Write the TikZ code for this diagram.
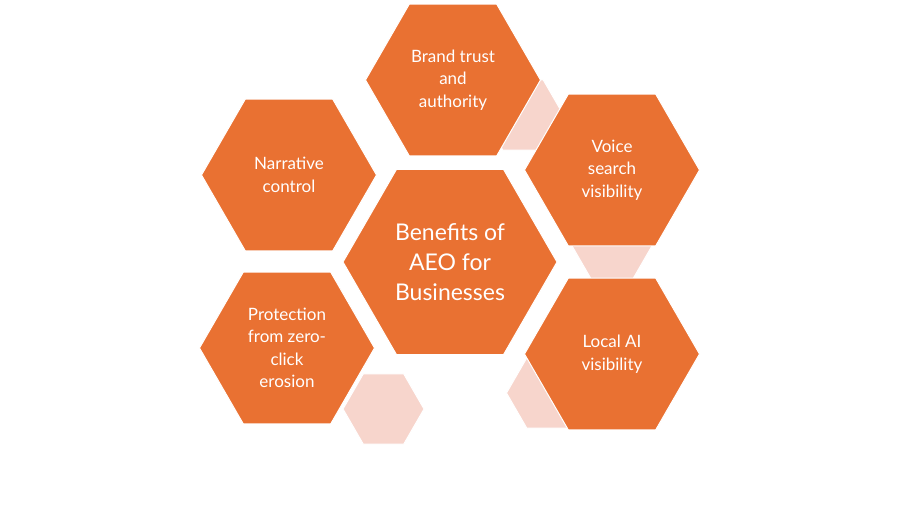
\documentclass[tikz,border=0pt]{standalone}
\usepackage{fontspec}
\setmainfont{Lato}
\usetikzlibrary{shapes.geometric}
\definecolor{hexorange}{HTML}{E97132}
\definecolor{hexpink}{HTML}{F7D5CC}
\tikzset{
  hex/.style={regular polygon,regular polygon sides=6,inner sep=0pt,
    fill=hexorange,draw=white,line width=1pt,text=white,align=center,
    minimum size=175pt,font=\fontsize{17}{22.5}\selectfont},
  bighex/.style={hex,minimum size=214pt,font=\fontsize{23}{30}\selectfont},
  smallhex/.style={regular polygon,regular polygon sides=6,inner sep=0pt,
    fill=hexpink,draw=white,line width=1pt,minimum size=81pt}
}
\begin{document}
\begin{tikzpicture}[x=1pt,y=-1pt]
\useasboundingbox (0,0) rectangle (900,525);

% pale filler hexagons
\node[smallhex] (fill1) at (523,115) {};
\node[smallhex] (fill2) at (612,245) {};
\node[smallhex] (fill3) at (547,393) {};
\node[smallhex] (fill4) at (383.5,409) {};

% benefit hexagons
\node[hex] (brand) at (453,80) {Brand trust\\and\\authority};
\node[hex] (voice) at (612,170) {Voice\\search\\visibility};
\node[hex] (narr) at (289,175) {Narrative\\control};
\node[hex] (prot) at (287,348) {Protection\\from zero-\\click\\erosion};
\node[hex] (local) at (612,354) {Local AI\\visibility};

\node[bighex] (aeo) at (450,262) {Benefits of\\AEO for\\Businesses};
\end{tikzpicture}
\end{document}
